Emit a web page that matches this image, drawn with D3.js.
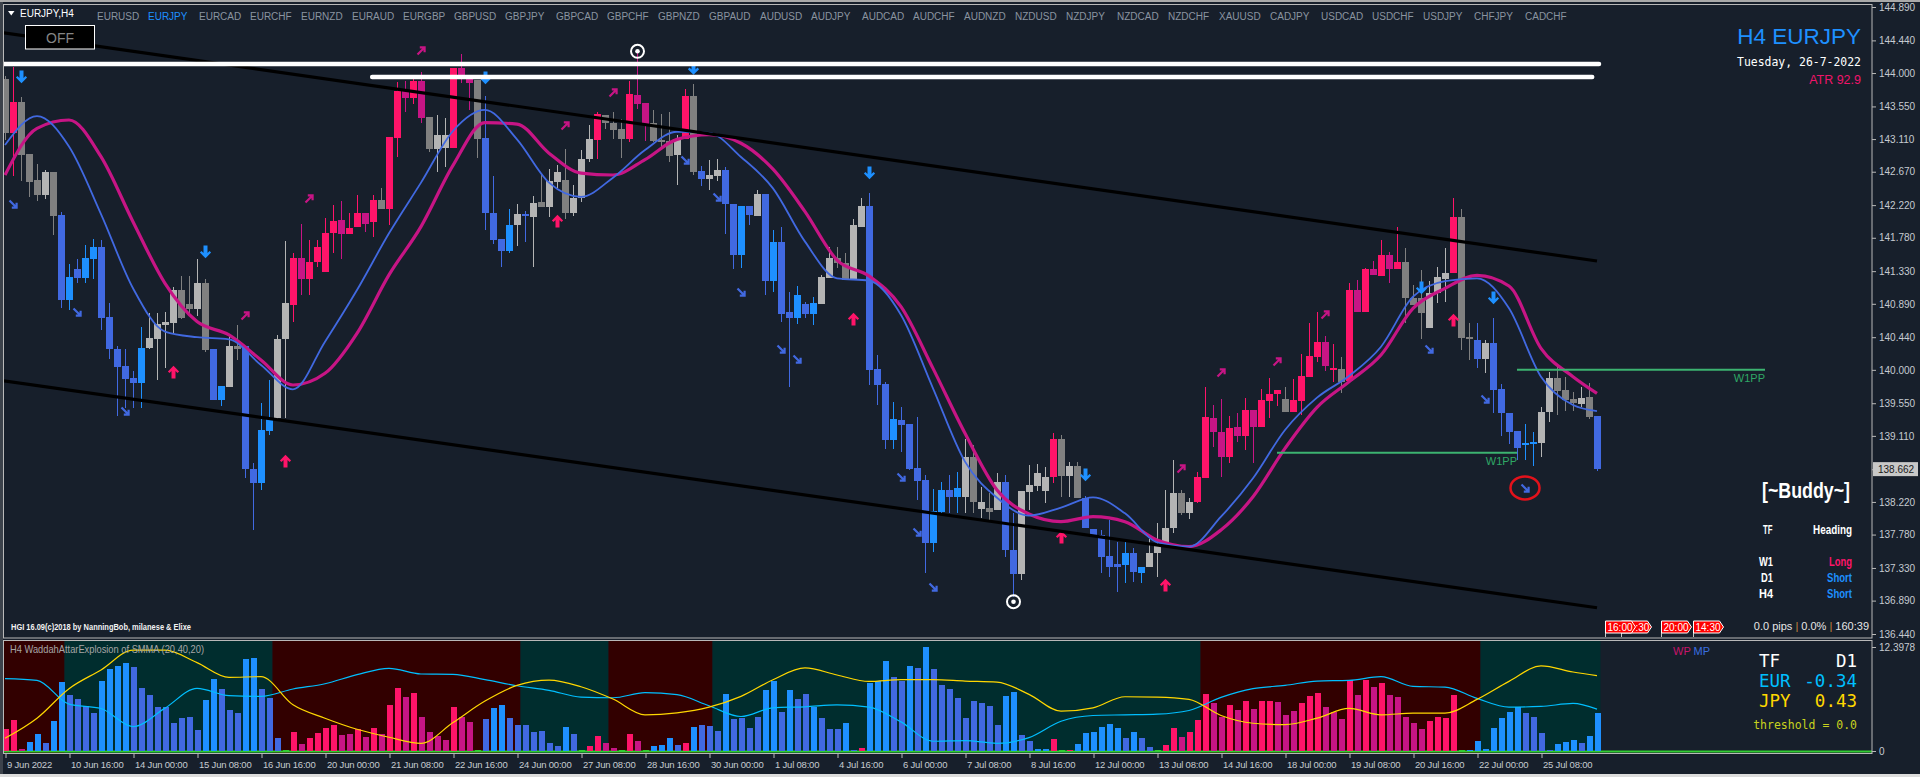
<!DOCTYPE html>
<html><head><meta charset="utf-8">
<script src="https://cdn.jsdelivr.net/npm/d3@7"></script>
<style>
html,body{margin:0;padding:0;background:#171f2b;overflow:hidden}
svg{display:block}
</style></head><body>
<svg id="chart" width="1920" height="777" font-family="Liberation Sans, Arial, sans-serif"></svg>
<script>
// ---------------- DATA ----------------
const symbols = ["EURUSD","EURJPY","EURCAD","EURCHF","EURNZD","EURAUD","EURGBP","GBPUSD","GBPJPY","GBPCAD","GBPCHF","GBPNZD","GBPAUD","AUDUSD","AUDJPY","AUDCAD","AUDCHF","AUDNZD","NZDUSD","NZDJPY","NZDCAD","NZDCHF","XAUUSD","CADJPY","USDCAD","USDCHF","USDJPY","CHFJPY","CADCHF"];
const activeSymbol = "EURJPY";

const priceTicks = [144.89,144.44,144.00,143.55,143.11,142.67,142.22,141.78,141.33,140.89,140.44,140.00,139.55,139.11,138.66,138.22,137.78,137.33,136.89,136.44];
const currentPrice = 138.662;
const timeTickIdx = d3.range(0, 200, 8);
const timeLabels = ["9 Jun 2022","10 Jun 16:00","14 Jun 00:00","15 Jun 08:00","16 Jun 16:00","20 Jun 00:00","21 Jun 08:00","22 Jun 16:00","24 Jun 00:00","27 Jun 08:00","28 Jun 16:00","30 Jun 00:00","1 Jul 08:00","4 Jul 16:00","6 Jul 00:00","7 Jul 08:00","8 Jul 16:00","12 Jul 00:00","13 Jul 08:00","14 Jul 16:00","18 Jul 00:00","19 Jul 08:00","20 Jul 16:00","22 Jul 00:00","25 Jul 08:00"];

const opens = [143.915,143.197,143.61,142.91,142.56,142.36,142.67,142.09,141.25,141.36,
141.51,141.65,141.65,140.71,140.28,140.05,139.89,140.30,140.29,140.42,
140.61,140.635,141.07,140.89,140.825,141.17,140.28,139.78,139.77,140.32,
140.32,138.67,139.19,139.35,139.35,140.41,140.87,141.23,141.23,141.45,
141.32,141.84,141.83,141.83,141.93,141.96,141.995,142.29,142.17,143.13,
143.668,143.668,143.40,143.41,142.977,142.987,142.987,143.967,143.864,143.90,
143.127,142.11,141.765,141.946,141.946,142.10,142.064,142.26,142.188,142.534,
142.559,142.11,142.312,142.848,143.101,143.436,143.333,143.245,143.116,143.58,
143.312,143.333,143.101,143.085,142.90,143.116,143.684,142.678,142.575,142.611,
142.688,142.24,142.214,142.214,142.074,142.368,141.724,141.724,140.78,141.002,
140.888,140.897,140.888,141.242,141.512,141.436,141.21,141.93,142.213,140.011,
139.809,139.333,139.324,139.27,138.673,138.516,138.102,138.381,138.381,138.403,
138.291,138.83,138.125,138.143,138.111,138.493,137.572,137.249,138.358,138.435,
138.372,138.551,139.064,138.569,138.704,138.268,137.855,137.774,137.491,137.383,
137.527,137.527,137.339,137.339,137.527,137.653,137.864,138.336,138.066,138.215,
138.547,139.167,138.821,138.821,139.113,139.113,139.234,139.234,139.585,139.674,
139.607,139.427,139.585,139.908,140.177,140.056,139.998,140.007,139.85,140.784,
140.784,141.278,141.269,141.355,141.355,141.449,140.964,140.964,140.568,141.04,
141.22,141.301,142.064,140.447,140.402,140.142,140.366,139.742,139.414,139.18,
139.01,139.023,139.01,139.427,139.885,139.728,139.607,139.54,139.63,139.378];

const highs = [143.96,144.086,143.673,142.91,142.78,142.70,142.67,142.13,141.43,141.50,
141.68,141.77,141.75,140.90,140.32,140.28,139.99,140.58,140.77,140.76,
140.78,141.12,141.265,141.265,141.50,141.23,140.28,139.78,140.47,140.60,
140.32,138.75,139.55,139.86,140.47,141.73,141.57,141.97,141.75,141.75,
142.04,142.22,142.27,142.11,142.36,142.12,142.36,142.45,143.14,143.88,
143.89,143.967,144.02,143.41,143.436,143.40,144.07,144.25,143.941,143.90,
143.684,142.611,141.765,142.172,142.24,142.136,142.343,142.652,142.704,142.766,
142.972,142.487,142.962,143.297,143.477,143.436,143.477,143.374,143.89,144.292,
143.596,143.503,143.451,143.477,143.168,143.787,143.854,142.745,142.833,142.848,
142.74,142.24,142.214,142.214,142.42,142.368,141.878,141.93,141.053,141.13,
140.92,140.987,141.28,141.66,141.651,141.57,142.03,142.32,142.379,140.2,
139.832,139.562,139.495,139.27,139.369,138.583,138.39,138.493,138.583,138.628,
139.063,138.987,138.426,138.336,138.605,138.583,138.066,138.372,138.718,138.731,
138.695,139.153,139.122,138.763,138.763,138.30,137.855,137.842,137.977,137.685,
137.685,137.595,137.339,137.72,137.941,138.381,138.785,138.38,138.27,138.62,
139.764,139.526,139.603,139.378,139.423,139.616,139.459,139.737,139.885,139.728,
139.764,139.872,140.213,140.636,140.784,140.456,140.348,140.177,141.166,141.21,
141.37,141.467,141.75,141.584,141.92,141.638,141.14,141.345,141.197,141.381,
141.638,142.311,142.163,140.627,140.627,140.40,140.694,139.81,139.414,139.18,
139.27,139.158,139.504,139.975,140.042,139.90,139.70,139.77,139.827,139.378];

const lows = [143.10,142.613,142.55,142.335,142.27,142.30,141.82,140.84,140.80,141.17,
141.17,141.22,140.54,140.14,139.38,139.48,139.48,139.48,140.28,139.86,
140.02,140.49,140.68,140.72,140.72,140.245,139.595,139.51,139.77,140.13,
138.54,137.84,138.38,139.12,139.33,139.35,140.65,141.01,141.01,141.39,
141.32,141.57,141.49,141.83,141.93,141.86,141.795,142.17,141.95,142.87,
143.477,143.58,143.333,142.936,142.662,142.73,142.987,143.864,143.503,142.858,
141.878,141.698,141.388,141.569,141.672,141.724,141.388,142.188,142.059,142.446,
142.033,142.074,142.265,142.797,142.848,143.245,143.106,142.858,143.075,143.518,
143.09,143.075,142.962,142.797,142.487,143.116,142.626,142.472,142.43,142.549,
141.837,141.363,141.373,141.956,142.074,141.012,141.043,140.64,139.774,140.615,
140.694,140.604,140.888,141.242,141.368,141.21,141.21,141.93,139.796,139.526,
138.933,138.929,138.897,138.65,138.246,137.258,137.55,138.066,138.066,138.066,
138.066,138.066,137.999,137.976,138.111,137.482,136.943,137.168,138.111,138.372,
138.21,138.48,138.291,138.291,138.268,137.873,137.765,137.267,137.213,137.011,
137.123,137.145,137.123,137.339,137.213,137.653,137.797,138.04,137.985,138.20,
138.547,138.965,138.56,138.749,139.032,138.92,138.74,139.234,139.346,139.51,
139.427,139.427,139.392,139.908,140.11,139.989,139.84,139.683,139.84,140.784,
140.784,141.278,141.269,141.166,141.355,140.627,140.874,140.41,140.56,140.896,
140.918,141.301,140.267,140.133,140.02,139.962,139.414,139.108,139.0,138.784,
138.784,138.704,138.83,139.302,139.391,139.45,139.45,139.50,139.333,138.63];

const closes = [143.197,143.61,142.90,142.53,142.36,142.67,142.07,140.94,140.94,141.24,
141.24,141.50,140.70,140.28,140.04,139.88,139.82,139.82,140.425,140.62,
140.645,141.07,140.70,140.825,141.17,140.27,139.595,139.595,140.32,140.285,
138.67,138.47,138.47,139.18,140.41,140.90,141.51,141.51,141.45,141.65,
141.84,142.01,142.02,141.91,142.12,142.12,142.29,142.17,143.14,143.76,
143.756,143.89,143.89,142.977,143.168,143.168,144.07,144.07,143.941,143.116,
142.11,141.75,141.605,141.605,142.095,142.07,142.255,142.188,142.549,142.662,
142.11,142.322,142.848,143.106,143.446,143.333,143.23,143.116,143.72,143.709,
143.596,143.085,143.075,142.884,143.116,143.694,142.668,142.575,142.626,142.688,
142.24,141.554,141.554,142.085,142.368,141.198,141.198,140.754,140.692,140.692,
140.753,140.753,141.256,141.512,141.436,141.21,141.952,142.213,139.998,139.796,
139.055,139.055,139.257,138.664,138.507,137.671,137.662,138.089,138.291,138.291,
138.83,138.215,138.224,138.08,138.493,137.572,137.249,138.372,138.448,138.614,
138.56,139.064,138.569,138.704,138.268,137.873,137.765,137.482,137.339,137.339,
137.37,137.28,137.267,137.527,137.653,137.864,138.336,138.066,138.215,138.552,
139.36,139.346,139.167,139.212,139.234,139.459,139.459,139.594,139.674,139.728,
139.427,139.594,139.917,140.186,140.371,140.371,140.02,139.84,141.076,141.076,
141.359,141.359,141.548,141.548,141.449,140.964,140.874,140.762,141.04,141.247,
141.301,142.064,140.434,140.411,140.142,140.366,139.728,139.414,139.167,138.942,
138.987,139.0,139.427,139.885,139.719,139.593,139.548,139.616,139.369,138.662];

// candle colour classes: P strong bull, M weak bull, L neutral bull, G neutral bear, B weak bear, D strong bear
const candleClass = "GPGGGLGBDB"+"DDBBBBBDLL"+"LLGGLGBDLG"+"BBDDLLPMPP"+"PPMPPMPGPP"+"MPMGLLPMMG"+"BBBDLBLGLL"+"GLLLPGGGPM"+"MGGGLPGBLL"+"BBDBLBDBBD"+"BDLLGGLLBB"+"BDBBBBDDBD"+"LGLGLBBLLL"+"LPGLGBBBBB"+"DBDLLLLGLP"+"PMMPMPMPPP"+"GPPPPMPGPM"+"PMPMPGGGLL"+"LPGGBLBBBB"+"DDLLGGGLGB";

// moving averages sampled every 4 bars
const maIdx = d3.range(0, 200, 4).concat([199]);
const maFast = [143.03,143.42,143.01,142.10,141.10,140.515,140.44,140.41,140.065,139.737,140.38,141.076,141.84,142.523,143.219,143.503,143.106,142.523,142.332,142.59,142.962,143.209,143.194,142.869,142.446,141.728,141.233,141.202,140.739,139.751,138.763,138.277,138.035,138.143,138.282,138.066,137.675,137.617,138.021,138.538,139.19,139.625,139.917,140.312,140.986,141.197,141.233,140.829,139.908,139.526,139.445];
const maSlow = [142.626,143.255,143.367,142.873,141.997,141.166,140.65,140.47,140.133,139.796,139.953,140.492,141.28,141.93,142.755,143.333,143.312,142.92,142.652,142.626,142.833,143.106,143.168,143.054,142.704,142.132,141.48,141.265,140.852,140.02,139.145,138.381,138.057,137.954,138.021,137.954,137.707,137.617,137.842,138.29,138.942,139.495,139.84,140.2,140.829,141.098,141.274,141.13,140.29,139.908,139.683];

// regression channel (first and last bar)
const channelIdx = [0, 199];
const channelUpper = [144.544, 141.467];
const channelLower = [139.854, 136.794];

// horizontal white levels
const levelPrice = [144.122, 143.947];
const levelFrom = [-0.25, 45.9];
const levelTo = [199.25, 198.4];

// weekly pivot segments
const pivotPrice = [138.883, 140.0];
const pivotFrom = [159, 189];
const pivotTo = [189, 220];

// signal arrows
const downArrowIdx = [2,25,60,86,108,135,177,186];
const downArrowPrice = [143.947,141.588,143.933,144.06,142.653,138.583,141.103,140.968];
const upArrowIdx = [21,35,69,106,132,145,181];
const upArrowPrice = [139.971,138.771,142.006,140.685,137.747,137.10,140.672];
const diagUpIdx = [30,38,52,70,76,147,152,159,165];
const diagUpPrice = [140.726,142.303,144.297,143.286,143.731,138.664,139.957,140.106,140.739];
const diagDownIdx = [1,9,15,85,89,92,97,99,112,114,116,178,185,190];
const diagDownPrice = [142.235,140.78,139.445,142.828,142.329,141.049,140.281,140.146,138.556,137.815,137.073,140.281,139.607,138.408];
const highlightIdx = 190;
const fractalIdx = [79, 126];
const fractalPrice = [144.293, 136.875];

// time markers in the future area (the 16:30 tag is mostly hidden under the 16:00 tag)
const markerIdx = [211, 207, 202, 200];
const markerLabels = ["14:30", "20:00", ":30", "16:00"];
const markerTextShift = [0, 0, 12, 0];

// Waddah Attar Explosion subwindow
const waeMax = 12.3978;
const waeHist = [2.63,3.71,0.24,1.08,2.04,0.96,3.59,8.26,6.71,6.23,
5.39,4.55,8.38,9.82,10.18,10.54,10.06,7.54,6.71,5.27,
5.27,3.35,3.95,4.07,2.51,6.11,8.62,7.43,4.91,4.55,
11.02,11.14,7.43,6.35,1.56,0.15,2.28,0.84,1.56,2.16,
2.75,3.11,1.92,2.04,2.63,1.68,2.75,2.04,5.51,7.54,
6.47,6.95,4.07,2.28,1.80,1.32,5.27,4.07,3.47,0.15,
3.83,5.15,5.51,3.95,3.11,3.11,2.28,2.40,0.96,0.60,
2.87,2.04,0.15,0.60,1.80,0.96,0.36,0.15,2.04,1.20,
0.15,0.60,0.72,1.56,0.72,0.96,2.87,3.11,2.99,2.40,
6.83,3.83,3.95,2.75,4.07,7.31,8.38,4.67,7.31,6.23,
6.83,5.27,3.95,2.63,2.63,3.35,0.12,0.36,8.14,8.38,
10.78,8.86,8.38,10.18,9.94,12.40,9.82,7.90,7.43,6.35,
3.95,5.99,5.75,5.39,3.11,6.59,7.07,1.92,1.20,0.24,
0.24,1.44,0.15,0.12,0.84,2.16,2.28,2.87,3.23,2.75,
1.56,2.28,1.56,0.48,0.15,0.72,2.75,1.68,2.28,3.71,
6.83,5.75,4.07,5.51,4.91,5.99,5.03,5.99,5.99,5.87,
4.31,4.79,5.75,6.59,6.95,5.27,4.67,3.83,8.50,6.71,
8.50,7.66,8.14,6.71,6.47,4.07,3.35,2.63,3.59,4.07,
3.95,6.71,0.15,0.10,1.20,0.24,2.75,3.95,4.67,5.27,
4.55,4.07,2.16,0.12,0.84,1.08,1.32,0.96,1.80,4.55];
const waeClass = "PPMDDBDDBB"+"BBDDDDBBBB"+"BBBBBDDBBB"+"DDBBBgPMPP"+"PPMMPMPMPP"+"MPMMMMPMMg"+"BDDBBBBBBB"+"DBgPPMMgPM"+"gDDDBPDBBB"+"DBBBBDDBDB"+"BDBBBDBPDD"+"DBBDBDBBBB"+"BBBBBDDBBD"+"DPgPDDDDDD"+"BDBBgPPMPP"+"PMMPMPMPPM"+"MMPPPMMMPM"+"PMPMMMMMPP"+"PPgDDDDDDD"+"BBBBDDDBDD";
const waeExplosion = [1.52,3.91,7.43,9.66,12.02,12.02,10.54,8.78,8.86,5.51,3.91,2.59,1.64,0.92,3.39,5.95,7.82,8.46,7.66,6.19,4.31,4.55,5.23,6.51,8.50,9.90,9.06,8.30,8.50,8.50,8.34,8.22,6.75,4.75,5.15,6.47,6.43,6.15,4.23,3.31,3.15,3.91,5.07,4.31,4.51,4.51,6.15,8.30,10.14,9.42,8.98];
const waeDeadZone = [8.62,8.42,5.59,5.07,2.91,5.11,7.47,6.59,6.51,7.39,8.02,9.10,9.86,9.18,9.14,8.50,7.78,7.23,6.43,6.35,6.95,6.71,5.39,4.11,5.15,5.27,5.51,5.23,3.47,1.16,1.24,0.92,1.60,3.55,4.23,4.31,4.39,4.83,6.39,7.43,7.82,8.34,8.42,8.86,7.70,7.62,6.27,5.23,5.31,5.67,4.99];
const zoneStart = [-0.5, 7.5, 33.5, 64.5, 75.5, 88.5, 149.5, 184.5];
const zoneEnd   = [7.5, 33.5, 64.5, 75.5, 88.5, 149.5, 184.5, 199.5];
const zoneType  = ["bear","bull","bear","bull","bear","bull","bear","bull"];

// ---------------- STYLE ----------------
const BG = "#171f2b";
const SANS = "Liberation Sans, Arial, sans-serif";
const MONO = "DejaVu Sans Mono, Liberation Mono, monospace";
const candlePalette = {P:"#ff1469", M:"#c71585", L:"#b4b4b4", G:"#808080", B:"#4169e1", D:"#1e90ff"};
const histPalette = {P:"#ff1469", M:"#c71585", B:"#4169e1", D:"#1e90ff", g:"#32cd32"};
const zonePalette = {bear:"#320000", bull:"#002d2e"};

// ---------------- SCALES ----------------
const x = d3.scaleLinear().domain([0, 199]).range([5, 1597]);
const y = d3.scaleLinear().domain([136.44, 144.89]).range([634, 7]);
const yw = d3.scaleLinear().domain([0, waeMax]).range([751, 647]);

const svg = d3.select("#chart");
const defs = svg.append("defs");
defs.append("clipPath").attr("id","clipMain").append("rect").attr("x",4).attr("y",5).attr("width",1868).attr("height",632);
defs.append("clipPath").attr("id","clipLow").append("rect").attr("x",4).attr("y",641).attr("width",1868).attr("height",112);

svg.append("rect").attr("width",1920).attr("height",777).attr("fill",BG);

// ---------------- LOWER PANEL ----------------
const low = svg.append("g").attr("clip-path","url(#clipLow)");
low.selectAll("rect.zone").data(zoneStart).join("rect").attr("class","zone")
  .attr("x",(d,k)=>x(d)-0.5).attr("width",(d,k)=>x(zoneEnd[k])-x(d))
  .attr("y",641).attr("height",112).attr("fill",(d,k)=>zonePalette[zoneType[k]]);
low.append("line").attr("x1",4).attr("x2",1872).attr("y1",751.5).attr("y2",751.5)
  .attr("stroke","#32cd32").attr("stroke-width",2);
low.append("g").attr("shape-rendering","crispEdges").selectAll("rect").data(waeHist).join("rect")
  .attr("x",(d,i)=>x(i)-2.5).attr("width",6)
  .attr("y",d=>yw(d)).attr("height",d=>yw(0)-yw(d))
  .attr("fill",(d,i)=>histPalette[waeClass[i]]);
const wline = d3.line().x((d,k)=>x(maIdx[k])).y(d=>yw(d)).curve(d3.curveMonotoneX);
low.append("path").attr("d",wline(waeDeadZone)).attr("fill","none").attr("stroke","#00bfff").attr("stroke-width",1.2);
low.append("path").attr("d",wline(waeExplosion)).attr("fill","none").attr("stroke","#ffd700").attr("stroke-width",1.2);
svg.append("text").attr("x",10).attr("y",653).attr("font-size",10.5).attr("fill","#a6a6a6")
  .attr("textLength",194).attr("lengthAdjust","spacingAndGlyphs").text("H4 WaddahAttarExplosion of SMMA (20,40,20)");

// ---------------- MAIN PANEL ----------------
const main = svg.append("g").attr("clip-path","url(#clipMain)");
const idx = d3.range(opens.length);
const gC = main.append("g").attr("shape-rendering","crispEdges");
gC.selectAll("line").data(idx).join("line")
  .attr("x1",i=>x(i)+0.5).attr("x2",i=>x(i)+0.5)
  .attr("y1",i=>y(highs[i])).attr("y2",i=>y(lows[i]))
  .attr("stroke",i=>candlePalette[candleClass[i]]).attr("stroke-width",1);
gC.selectAll("rect").data(idx).join("rect")
  .attr("x",i=>x(i)-3).attr("width",7)
  .attr("y",i=>y(Math.max(opens[i],closes[i])))
  .attr("height",i=>Math.max(1.5,Math.abs(y(opens[i])-y(closes[i]))))
  .attr("fill",i=>candlePalette[candleClass[i]]);

const maLine = d3.line().x((d,k)=>x(maIdx[k])).y(d=>y(d)).curve(d3.curveMonotoneX);
main.append("path").attr("d",maLine(maSlow)).attr("fill","none").attr("stroke","#c71585").attr("stroke-width",3.2);
main.append("path").attr("d",maLine(maFast)).attr("fill","none").attr("stroke","#4169e1").attr("stroke-width",1.8);

// arrows
const downPath = "M-2,-6.5 H2 V1 L4,-1 L5.6,0.6 L0,6.2 L-5.6,0.6 L-4,-1 L-2,1 Z";
main.selectAll("path.dn").data(downArrowIdx).join("path").attr("class","dn")
  .attr("d",downPath).attr("fill","#1e90ff")
  .attr("transform",(d,k)=>`translate(${x(d)+0.5},${y(downArrowPrice[k])})`);
main.selectAll("path.up").data(upArrowIdx).join("path").attr("class","up")
  .attr("d",downPath).attr("fill","#ff1469")
  .attr("transform",(d,k)=>`translate(${x(d)+0.5},${y(upArrowPrice[k])}) scale(1,-1)`);
main.selectAll("path.du").data(diagUpIdx).join("path").attr("class","du")
  .attr("d","M-3.5,3.5 L2.5,-2.5 M-1.2,-3.6 H3.6 V1.2").attr("fill","none")
  .attr("stroke","#c71585").attr("stroke-width",2.2)
  .attr("transform",(d,k)=>`translate(${x(d)},${y(diagUpPrice[k])})`);
main.selectAll("path.dd").data(diagDownIdx).join("path").attr("class","dd")
  .attr("d","M-3.5,-3.5 L2.5,2.5 M3.6,-1.2 V3.6 H-1.2").attr("fill","none")
  .attr("stroke","#4169e1").attr("stroke-width",2.2)
  .attr("transform",(d,k)=>`translate(${x(d)},${y(diagDownPrice[k])})`);
main.append("ellipse")
  .attr("cx",x(highlightIdx)).attr("cy",y(diagDownPrice[diagDownIdx.indexOf(highlightIdx)]))
  .attr("rx",14.5).attr("ry",11.5).attr("fill","none").attr("stroke","#e3121b").attr("stroke-width",2.5);

// channel lines
main.append("line").attr("x1",x(channelIdx[0])-2).attr("x2",x(channelIdx[1]))
  .attr("y1",y(channelUpper[0])).attr("y2",y(channelUpper[1])).attr("stroke","#000").attr("stroke-width",3.2);
main.append("line").attr("x1",x(channelIdx[0])-2).attr("x2",x(channelIdx[1]))
  .attr("y1",y(channelLower[0])).attr("y2",y(channelLower[1])).attr("stroke","#000").attr("stroke-width",3.2);

// white levels
main.selectAll("line.lvl").data(levelPrice).join("line").attr("class","lvl")
  .attr("x1",(d,k)=>x(levelFrom[k])).attr("x2",(d,k)=>x(levelTo[k]))
  .attr("y1",d=>y(d)).attr("y2",d=>y(d))
  .attr("stroke","#fff").attr("stroke-width",4.5).attr("stroke-linecap","round");

// pivots
main.selectAll("line.pv").data(pivotPrice).join("line").attr("class","pv")
  .attr("x1",(d,k)=>x(pivotFrom[k])).attr("x2",(d,k)=>x(pivotTo[k]))
  .attr("y1",d=>y(d)).attr("y2",d=>y(d)).attr("stroke","#3cb371").attr("stroke-width",2);
main.selectAll("text.pv").data(pivotPrice).join("text").attr("class","pv")
  .attr("x",(d,k)=>x(pivotTo[k])).attr("y",d=>y(d)+12).attr("text-anchor","end")
  .attr("font-size",11).attr("fill","#2fa866").text("W1PP");

// fractal circles
const fr = main.selectAll("g.fr").data(fractalIdx).join("g").attr("class","fr")
  .attr("transform",(d,k)=>`translate(${x(d)+0.5},${y(fractalPrice[k])})`);
fr.append("circle").attr("r",6.5).attr("fill","none").attr("stroke","#fff").attr("stroke-width",2);
fr.append("circle").attr("r",2.3).attr("fill","#fff");

// time markers
const mk = main.selectAll("g.mk").data(markerIdx).join("g").attr("class","mk")
  .attr("transform",d=>`translate(${x(d)+0.5},0)`);
mk.append("line").attr("x1",0).attr("x2",0).attr("y1",633).attr("y2",638).attr("stroke","#c8c8c8");
mk.append("path").attr("d","M0,621 H26 L30,627 L26,633 H0 Z").attr("fill","#ff0000").attr("stroke","#fff").attr("stroke-width",1);
mk.append("text").attr("x",(d,k)=>2+markerTextShift[k]).attr("y",631).attr("font-size",10).attr("fill","#fff")
  .text((d,k)=>markerLabels[k]);

// ---------------- FRAMES ----------------
svg.append("rect").attr("x",0).attr("y",0).attr("width",1920).attr("height",2).attr("fill","#a9a9a9");
svg.append("rect").attr("x",0).attr("y",2).attr("width",3).attr("height",772).attr("fill","#3c424b");
svg.append("rect").attr("x",0).attr("y",774).attr("width",1920).attr("height",3).attr("fill","#dcdcdc");
svg.append("rect").attr("x",3.5).attr("y",4.5).attr("width",1868.5).attr("height",633.5)
  .attr("fill","none").attr("stroke","#b9b9b9").attr("stroke-width",1);
svg.append("rect").attr("x",3.5).attr("y",640.5).attr("width",1868.5).attr("height",113)
  .attr("fill","none").attr("stroke","#b9b9b9").attr("stroke-width",1);

// ---------------- AXES ----------------
const axFont = g => { g.select(".domain").remove();
  g.attr("font-family",SANS);
  g.selectAll(".tick line").attr("stroke","#b9b9b9");
  g.selectAll(".tick text").attr("fill","#c6cbd1").attr("font-size",10); };
svg.append("g").attr("transform","translate(1872,0)")
  .call(d3.axisRight(y).tickValues(priceTicks).tickFormat(d3.format(".3f")).tickSize(4)).call(axFont);
svg.append("g").attr("transform","translate(1872,0)")
  .call(d3.axisRight(yw).tickValues([waeMax,0]).tickFormat(d=>d===0?"0":d3.format(".4f")(d)).tickSize(4)).call(axFont);
const tAx = svg.append("g").attr("transform","translate(0.5,754)")
  .call(d3.axisBottom(x).tickValues(timeTickIdx).tickFormat((d,k)=>timeLabels[k]).tickSize(4)).call(axFont);
tAx.selectAll(".tick text").attr("text-anchor","start").attr("x",1).attr("font-size",9.5).attr("letter-spacing",-0.2);

// current price box
svg.append("rect").attr("x",1873).attr("y",y(currentPrice)-7).attr("width",45).attr("height",14).attr("fill","#c8c8c8");
svg.append("text").attr("x",1878).attr("y",y(currentPrice)+4).attr("font-size",10).attr("fill","#1a1a1a").text(d3.format(".3f")(currentPrice));

// ---------------- TEXT OVERLAYS ----------------
svg.append("path").attr("d","M8,11 H14.5 L11.25,15.5 Z").attr("fill","#fff");
svg.append("text").attr("x",20).attr("y",16.5).attr("font-size",10).attr("fill","#fff").text("EURJPY,H4");
svg.selectAll("text.sym").data(symbols).join("text").attr("class","sym")
  .attr("x",(d,k)=>97+51*k).attr("y",19.5).attr("font-size",10)
  .attr("fill",d=>d===activeSymbol?"#1e90ff":"#8a94a0").text(d=>d);
svg.append("rect").attr("x",25.5).attr("y",25.5).attr("width",69).attr("height",23.5).attr("fill","#000").attr("stroke","#fff");
svg.append("text").attr("x",60).attr("y",43).attr("text-anchor","middle").attr("font-size",14).attr("fill","#858585").text("OFF");

svg.append("text").attr("x",1861).attr("y",44).attr("text-anchor","end").attr("font-size",22.5).attr("fill","#1e90ff").text("H4 EURJPY");
svg.append("text").attr("x",1861).attr("y",66).attr("text-anchor","end").attr("font-size",11.5)
  .attr("font-family",MONO).attr("fill","#fff")
  .attr("textLength",124).attr("lengthAdjust","spacingAndGlyphs").text("Tuesday, 26-7-2022");
svg.append("text").attr("x",1861).attr("y",84).attr("text-anchor","end").attr("font-size",12.5).attr("fill","#f0146a").text("ATR 92.9");

const bold = (t,xx,yy,len,fill,anchor,size) => svg.append("text").attr("x",xx).attr("y",yy)
  .attr("text-anchor",anchor||"start").attr("font-size",size||12).attr("font-weight","bold")
  .attr("fill",fill).attr("textLength",len).attr("lengthAdjust","spacingAndGlyphs").text(t);
bold("[~Buddy~]",1762,498,88,"#fff","start",22);
bold("TF",1763,534,9.5,"#fff");
bold("Heading",1813,534,39,"#fff");
bold("W1",1759,566,14,"#fff");
bold("Long",1829,566,23,"#ff1469");
bold("D1",1761,582,12,"#fff");
bold("Short",1827,582,25,"#1e90ff");
bold("H4",1759,598,14,"#fff");
bold("Short",1827,598,25,"#1e90ff");

const pips = svg.append("text").attr("x",1869).attr("y",630).attr("text-anchor","end").attr("font-size",11).attr("fill","#e6e6e6");
pips.append("tspan").text("0.0 pips ");
pips.append("tspan").attr("fill","#c9873d").text("|");
pips.append("tspan").text(" 0.0% ");
pips.append("tspan").attr("fill","#c9873d").text("|");
pips.append("tspan").text(" 160:39");

svg.append("text").attr("x",11).attr("y",630).attr("font-size",8.5).attr("font-weight","bold").attr("fill","#f2f2f2")
  .attr("textLength",180).attr("lengthAdjust","spacingAndGlyphs").text("HGI 16.09(c)2018 by NanningBob, milanese & Elixe");

const wpmp = svg.append("text").attr("x",1673).attr("y",655).attr("font-size",11);
wpmp.append("tspan").attr("fill","#c8146a").text("WP ");
wpmp.append("tspan").attr("fill","#3a6fe0").text("MP");

const mono = (t,xx,yy,fill,anchor,size) => svg.append("text").attr("x",xx).attr("y",yy)
  .attr("text-anchor",anchor).attr("font-size",size).attr("font-family",MONO).attr("fill",fill).text(t);
mono("TF",1759,667,"#fff","start",17.5);
mono("D1",1857,667,"#fff","end",17.5);
mono("EUR",1759,687,"#00bfff","start",17.5);
mono("-0.34",1857,687,"#00bfff","end",17.5);
mono("JPY",1759,707,"#ffd700","start",17.5);
mono("0.43",1857,707,"#ffd700","end",17.5);
mono("threshold = 0.0",1857,729,"#c8d21e","end",11.5);
</script></body></html>
